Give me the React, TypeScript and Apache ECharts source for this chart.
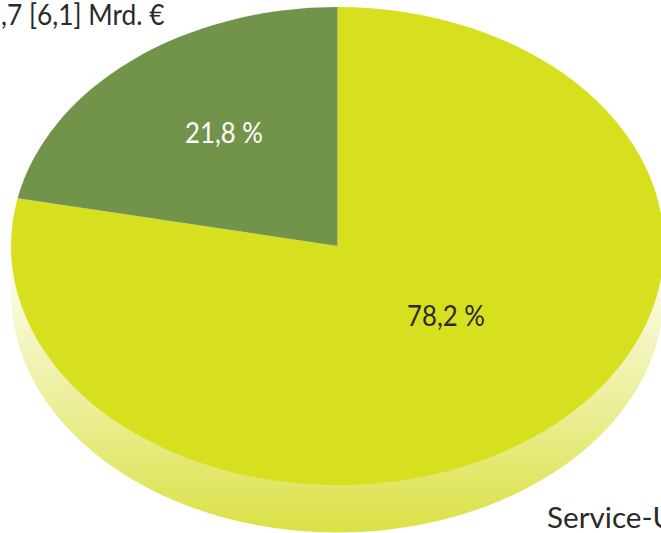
import React, { useEffect, useRef } from "react";
import * as echarts from "echarts";

const categories = ["Service-Umsätze", "Produkt-Umsätze"];
const shares = [78.2, 21.8];
const sliceColors = ["#d7e01f", "#72944a"];
const labelColors = ["#2b2a29", "#ffffff"];
const labelPositions = [[446, 315], [224, 132]];
const captions = [
  { text: ",7 [6,1] Mrd. €", x: 1, y: 26, squeeze: 0.94 },
  { text: "Service-U", x: 547, y: 529, squeeze: 1.06 },
];

const CX = 337.5;
const CY = 246;
const RX = 326.5;
const RY = 239;
const DEPTH = 47.5;
const FONT = "Lato, sans-serif";

function fmt(v: number) {
  return v.toFixed(1).replace(".", ",") + " %";
}

export default function App() {
  const ref = useRef<HTMLDivElement>(null);
  useEffect(() => {
    const chart = echarts.init(ref.current!, null, { renderer: "svg" });
    const total = shares.reduce((a, b) => a + b, 0);
    chart.setOption({
      animation: false,
      backgroundColor: "#ffffff",
      series: [
        {
          type: "custom",
          coordinateSystem: "none",
          silent: true,
          z: 1,
          data: [total],
          renderItem: () => {
            const points: number[][] = [];
            for (let deg = 0; deg <= 180; deg += 1) {
              const t = (deg * Math.PI) / 180;
              points.push([CX + RX * Math.cos(t), CY + DEPTH + RY * Math.sin(t)]);
            }
            points.push([CX - RX, CY], [CX + RX, CY]);
            return {
              type: "polygon",
              shape: { points },
              style: {
                fill: new echarts.graphic.LinearGradient(0, 0, 0, 1, [
                  { offset: 0, color: "#ffffff" },
                  { offset: 1, color: "#dbe145" },
                ]),
              },
            };
          },
        },
        {
          type: "custom",
          coordinateSystem: "none",
          silent: true,
          z: 2,
          data: shares.map((v, i) => ({ name: categories[i], value: v })),
          renderItem: (params: any, api: any) => {
            const i = params.dataIndex;
            const before = shares.slice(0, i).reduce((a, b) => a + b, 0);
            const start = -Math.PI / 2 + (before / total) * Math.PI * 2;
            const end = start + (api.value(0) / total) * Math.PI * 2;
            return {
              type: "group",
              children: [
                {
                  type: "sector",
                  x: CX,
                  y: CY,
                  scaleY: RY / RX,
                  shape: { cx: 0, cy: 0, r0: 0, r: RX, startAngle: start, endAngle: end, clockwise: true },
                  style: { fill: sliceColors[i] },
                },
                {
                  type: "text",
                  z2: 10,
                  x: labelPositions[i][0],
                  y: labelPositions[i][1],
                  scaleX: 0.92,
                  style: {
                    text: fmt(api.value(0)),
                    fill: labelColors[i],
                    font: `400 28px ${FONT}`,
                    align: "center",
                    verticalAlign: "middle",
                  },
                },
              ],
            };
          },
        },
      ],
      graphic: captions.map((c) => ({
        type: "text",
        x: c.x,
        y: c.y,
        scaleX: c.squeeze,
        z: 10,
        style: {
          text: c.text,
          fill: "#2b2a29",
          font: `400 28px ${FONT}`,
          lineHeight: 24,
          verticalAlign: "bottom",
          align: "left",
        },
      })),
    });
    return () => chart.dispose();
  }, []);
  return <div ref={ref} style={{ position: "fixed", left: 0, top: 0, width: 661, height: 533 }} />;
}
